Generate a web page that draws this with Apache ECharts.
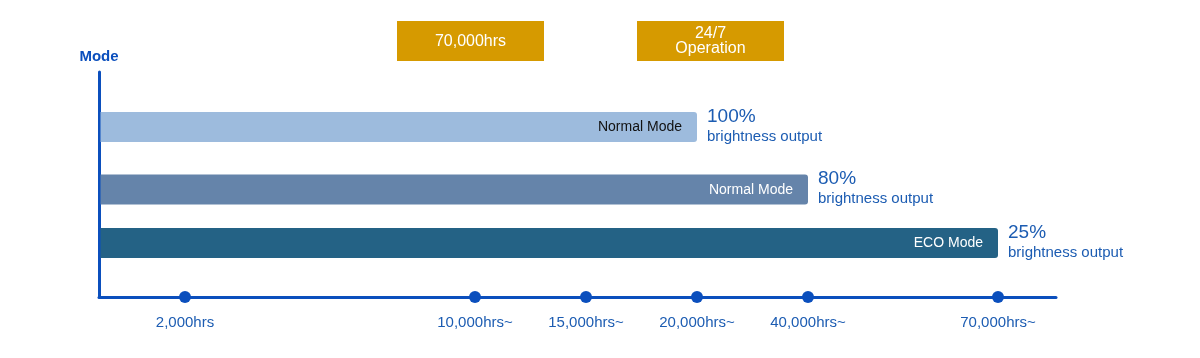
<!DOCTYPE html>
<html>
<head>
<meta charset="utf-8">
<script src="https://cdn.jsdelivr.net/npm/echarts@6/dist/echarts.min.js"></script>
<style>
html,body{margin:0;padding:0;background:#fff;}
#chart{width:1200px;height:358px;}
</style>
</head>
<body>
<div id="chart"></div>
<script>
// ---- data ----
const modes = ['Normal Mode', 'Normal Mode', 'ECO Mode'];
const lifetimeHours = [20000, 40000, 70000];
const brightness = ['100%', '80%', '25%'];
const brightnessCaption = 'brightness output';
const tickHours = [2000, 10000, 15000, 20000, 40000, 70000];
const tickLabels = ['2,000hrs', '10,000hrs~', '15,000hrs~', '20,000hrs~', '40,000hrs~', '70,000hrs~'];
const badges = ['70,000hrs', '24/7\nOperation'];
const yAxisName = 'Mode';

// ---- layout (non-linear piecewise scale stops, in axis units) ----
const SCALE_STOPS = [86, 376, 487, 598, 709, 899];
const AXIS_MAX_X = 957;
const AXIS_MAX_Y = 225;
const ROW_Y = [170, 107.5, 54];
const hourToPos = h => SCALE_STOPS[tickHours.indexOf(h)];

const BLUE = '#0b4fbd';
const TEXT_BLUE = '#1c5cb2';
const barColors = ['#9dbbdd', '#6584aa', '#246285'];
const innerText = ['#111111', '#ffffff', '#ffffff'];
const FONT = '"Liberation Sans", Arial, Helvetica, sans-serif';

const chart = echarts.init(document.getElementById('chart'), null, {renderer: 'canvas'});

const option = {
  animation: false,
  backgroundColor: '#ffffff',
  grid: {left: 99, right: 144, top: 72, bottom: 61, containLabel: false},
  xAxis: {
    type: 'value', min: 0, max: AXIS_MAX_X,
    axisLine: {show: true, lineStyle: {color: BLUE, width: 3, cap: 'round'}},
    axisTick: {show: false},
    splitLine: {show: false},
    axisLabel: {
      show: true,
      customValues: SCALE_STOPS,
      formatter: v => tickLabels[SCALE_STOPS.indexOf(v)] || '',
      color: TEXT_BLUE, fontSize: 15, fontFamily: FONT, margin: 18
    }
  },
  yAxis: {
    type: 'value', min: 0, max: AXIS_MAX_Y,
    name: yAxisName, nameLocation: 'end', nameGap: 8,
    nameTextStyle: {color: BLUE, fontSize: 15, fontWeight: 'bold', fontFamily: FONT, align: 'center'},
    axisLine: {show: true, lineStyle: {color: BLUE, width: 3, cap: 'round'}},
    axisTick: {show: false},
    axisLabel: {show: false},
    splitLine: {show: false}
  },
  graphic: badges.map((t, i) => ({
    type: 'group',
    left: [397, 637][i], top: 21,
    children: [
      {type: 'rect', shape: {x: 0, y: 0, width: 147, height: 40}, style: {fill: '#d69a00'}},
      {type: 'text', x: 73.5, y: 20.5, style: {text: t, align: 'center', verticalAlign: 'middle',
        fill: '#ffffff', fontSize: 16, fontFamily: FONT, lineHeight: 15}}
    ]
  })),
  series: [
    {
      type: 'custom',
      clip: false,
      data: modes.map((m, i) => [ROW_Y[i], hourToPos(lifetimeHours[i])]),
      encode: {x: 1, y: 0},
      renderItem: (params, api) => {
        const i = params.dataIndex;
        const end = api.coord([api.value(1), api.value(0)]);
        const start = api.coord([0, api.value(0)]);
        const h = 30;
        return {
          type: 'group',
          children: [
            {type: 'rect', shape: {x: start[0] + 1.5, y: end[1] - h / 2, width: end[0] - start[0] - 1.5, height: h, r: [0, 3, 3, 0]},
              style: {fill: barColors[i]}},
            {type: 'text', style: {text: modes[i], x: end[0] - 15, y: end[1] + 0.5, align: 'right', verticalAlign: 'middle',
              fill: innerText[i], fontSize: 14, fontFamily: FONT}},
            {type: 'text', style: {text: brightness[i], x: end[0] + 10, y: end[1] - 10.5, align: 'left', verticalAlign: 'middle',
              fill: TEXT_BLUE, fontSize: 19, fontFamily: FONT}},
            {type: 'text', style: {text: brightnessCaption, x: end[0] + 10, y: end[1] + 9.5, align: 'left', verticalAlign: 'middle',
              fill: TEXT_BLUE, fontSize: 15, fontFamily: FONT}}
          ]
        };
      }
    },
    {
      type: 'scatter',
      clip: false,
      symbol: 'circle',
      symbolSize: 12,
      itemStyle: {color: BLUE, opacity: 1},
      z: 5,
      data: tickHours.map(h => [hourToPos(h), 0])
    }
  ]
};
chart.setOption(option);
</script>
</body>
</html>
